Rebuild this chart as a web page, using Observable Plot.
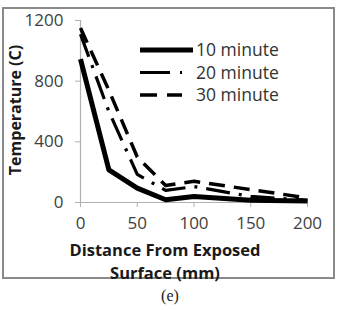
<!DOCTYPE html>
<html>
<head>
<meta charset="utf-8">
<script src="https://cdn.jsdelivr.net/npm/d3@7"></script>
<script src="https://cdn.jsdelivr.net/npm/@observablehq/plot@0.6"></script>
<style>
  html, body { margin: 0; padding: 0; background: #fff; }
  #wrap { position: relative; width: 341px; height: 310px; overflow: hidden; font-family: "Open Sans", sans-serif; }
  #frame { position: absolute; left: 2px; top: 7px; width: 329px; height: 268px; border: 2px solid #8a8a8a; }
  #chart { position: absolute; left: 0; top: 0; }
  .ytitle { position: absolute; left: 15px; top: 110px; transform: translate(-50%, -50%) rotate(-90deg); font-weight: bold; font-size: 16px; color: #1a1a1a; white-space: nowrap; }
  .xtitle { position: absolute; left: 165px; top: 238px; transform: translateX(-50%); text-align: center; font-weight: bold; font-size: 16.5px; line-height: 23px; color: #1a1a1a; white-space: nowrap; }
  .caption { position: absolute; left: 170px; top: 287px; transform: translateX(-50%); font-family: "Liberation Serif", "DejaVu Serif", serif; font-size: 16px; color: #222; }
  #legend { position: absolute; left: 0; top: 0; }
</style>
</head>
<body>
<div id="wrap">
  <div id="frame"></div>
  <div id="chart"></div>
  <svg id="legend" width="341" height="310"></svg>
  <div class="ytitle">Temperature (C)</div>
  <div class="xtitle">Distance From Exposed<br>Surface (mm)</div>
  <div class="caption">(e)</div>
</div>
<script>
// Data
const distances = [0, 25, 50, 75, 100, 150, 200];
const seriesNames = ["10 minute", "20 minute", "30 minute"];
const temp10 = [945, 215, 95, 18, 40, 15, 10];
const temp20 = [1110, 600, 185, 80, 105, 40, 15];
const temp30 = [1150, 740, 300, 112, 140, 85, 30];
const xTicks = [0, 50, 100, 150, 200];
const yTicks = [0, 400, 800, 1200];

const styles = {
  "10 minute": { width: 5, dash: null },
  "20 minute": { width: 3.2, dash: "24,9,3,9" },
  "30 minute": { width: 3.5, dash: "16,9" }
};

const allSeries = [temp10, temp20, temp30];
const rows = [];
seriesNames.forEach((name, i) => {
  distances.forEach((d, j) => rows.push({ series: name, distance: d, temp: allSeries[i][j] }));
});

const lineMarks = seriesNames.map(name =>
  Plot.line(rows.filter(r => r.series === name), {
    x: "distance", y: "temp", stroke: "#000",
    strokeWidth: styles[name].width,
    strokeDasharray: styles[name].dash || undefined,
    strokeLinejoin: "round",
    strokeLinecap: "butt"
  })
);

const plot = Plot.plot({
  width: 341,
  height: 280,
  marginLeft: 80,
  marginRight: 34,
  marginTop: 20,
  marginBottom: 78,
  style: { background: "transparent", fontFamily: "Open Sans, sans-serif" },
  x: { domain: [0, 200] },
  y: { domain: [0, 1200] },
  marks: [
    Plot.ruleY([0], { stroke: "#b0b0b0", strokeWidth: 1.2 }),
    Plot.ruleX([0], { stroke: "#b0b0b0", strokeWidth: 1.2 }),
    Plot.axisX({ ticks: xTicks, tickSize: 5, tickPadding: 9, tickFormat: d => String(d), stroke: "#b0b0b0", fill: "#404040", fontSize: 17, label: null }),
    Plot.axisY({ ticks: yTicks, tickSize: 5, tickPadding: 12, tickFormat: d => String(d), stroke: "#b0b0b0", fill: "#404040", fontSize: 17, label: null }),
    ...lineMarks
  ]
});
document.getElementById("chart").appendChild(plot);

// Legend
const leg = d3.select("#legend");
const legX0 = 140, legX1 = { "10 minute": 193, "20 minute": 182, "30 minute": 182 };
seriesNames.forEach((name, i) => {
  const y = 50 + i * 22.5;
  leg.append("line")
    .attr("x1", legX0).attr("x2", legX1[name]).attr("y1", y).attr("y2", y)
    .attr("stroke", "#000").attr("stroke-width", styles[name].width)
    .attr("stroke-dasharray", name === "20 minute" ? "30,10,3,10" : (name === "30 minute" ? "17,10" : null));
  leg.append("text")
    .attr("x", 196).attr("y", y).attr("dy", "0.35em")
    .attr("font-family", "Open Sans, sans-serif").attr("font-size", 17.5)
    .attr("fill", "#333").text(name);
});
</script>
</body>
</html>
